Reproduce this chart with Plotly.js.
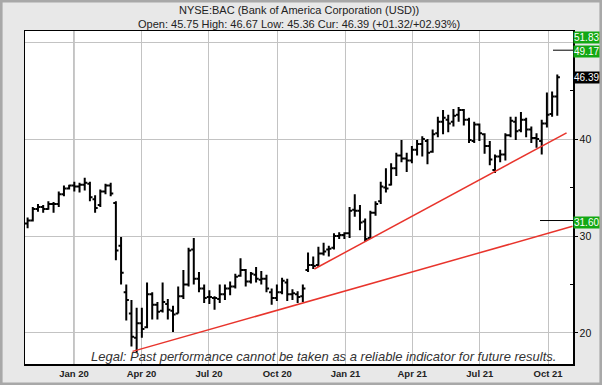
<!DOCTYPE html>
<html><head><meta charset="utf-8">
<script src="https://cdn.plot.ly/plotly-3.0.1.min.js"></script>
<style>html,body{margin:0;padding:0;background:#e8e8e8;}#chart{width:602px;height:385px;}</style>
</head><body><div id="chart"></div>
<script>
// Weekly bars (week starting Monday), BAC
const weekDates = ['2019-10-28','2019-11-04','2019-11-11','2019-11-18','2019-11-25','2019-12-02','2019-12-09','2019-12-16','2019-12-23','2019-12-30',
'2020-01-06','2020-01-13','2020-01-20','2020-01-27','2020-02-03','2020-02-10','2020-02-17','2020-02-24','2020-03-02','2020-03-09',
'2020-03-16','2020-03-23','2020-03-30','2020-04-06','2020-04-13','2020-04-20','2020-04-27','2020-05-04','2020-05-11','2020-05-18',
'2020-05-25','2020-06-01','2020-06-08','2020-06-15','2020-06-22','2020-06-29','2020-07-06','2020-07-13','2020-07-20','2020-07-27',
'2020-08-03','2020-08-10','2020-08-17','2020-08-24','2020-08-31','2020-09-07','2020-09-14','2020-09-21','2020-09-28','2020-10-05',
'2020-10-12','2020-10-19','2020-10-26','2020-11-02','2020-11-09','2020-11-16','2020-11-23','2020-11-30','2020-12-07','2020-12-14',
'2020-12-21','2020-12-28','2021-01-04','2021-01-11','2021-01-18','2021-01-25','2021-02-01','2021-02-08','2021-02-15','2021-02-22',
'2021-03-01','2021-03-08','2021-03-15','2021-03-22','2021-03-29','2021-04-05','2021-04-12','2021-04-19','2021-04-26','2021-05-03',
'2021-05-10','2021-05-17','2021-05-24','2021-05-31','2021-06-07','2021-06-14','2021-06-21','2021-06-28','2021-07-05','2021-07-12',
'2021-07-19','2021-07-26','2021-08-02','2021-08-09','2021-08-16','2021-08-23','2021-08-30','2021-09-06','2021-09-13','2021-09-20',
'2021-09-27','2021-10-04','2021-10-11'];
const opens = [31.3,31.6,32.8,33.0,32.8,33.3,33.3,34.3,34.9,35.2,
35.1,35.3,35.4,33.8,33.2,34.6,35.2,33.4,29.0,24.2,
22.0,19.5,21.0,20.6,24.0,22.9,22.3,23.0,22.3,22.0,
23.8,25.0,28.6,25.6,24.6,23.7,23.6,23.5,24.0,24.6,
24.8,25.9,26.5,25.3,26.0,25.5,25.6,24.2,23.6,24.2,
25.2,24.0,24.0,23.8,26.5,27.0,27.0,28.2,28.6,28.8,
30.0,30.1,30.3,32.7,32.6,31.5,29.8,32.4,33.6,35.0,
35.3,37.0,38.3,38.0,37.8,38.9,39.5,39.8,38.7,40.6,
41.8,42.0,41.8,42.5,43.0,42.0,39.8,41.5,40.5,39.3,
36.8,38.2,38.4,40.4,41.8,40.9,42.0,41.0,40.1,39.8,
41.6,42.6,44.4];
const highs = [31.9,33.0,33.3,33.2,33.6,33.5,34.6,35.2,35.3,35.6,
35.5,36.0,35.6,34.2,34.8,35.4,35.5,33.6,29.9,25.0,
23.4,22.6,22.6,25.2,24.2,23.2,25.2,23.5,22.8,24.8,
26.5,28.8,29.8,26.3,25.0,24.4,23.8,25.0,25.0,25.3,
26.1,27.7,26.6,26.3,26.8,26.4,26.0,24.6,25.0,25.7,
25.6,24.5,24.3,25.0,28.3,27.9,28.9,29.3,29.0,30.3,
30.4,30.4,33.0,34.3,33.2,31.8,32.6,33.6,35.6,37.0,
37.5,38.6,39.9,38.6,39.3,39.9,40.3,40.0,41.0,42.3,
43.0,42.5,43.1,43.3,43.1,42.2,41.8,41.6,40.6,39.8,
38.4,38.9,40.6,42.3,42.3,42.8,42.2,41.3,40.6,42.0,
44.8,44.9,46.67];
const lows = [30.8,31.5,32.5,32.4,32.7,32.4,33.0,34.1,34.8,34.6,
34.5,34.7,33.6,32.4,33.0,34.3,34.1,27.5,25.0,21.3,
18.6,17.95,19.5,20.5,21.4,21.4,22.1,21.4,20.1,22.0,
23.5,24.8,25.0,24.2,23.1,23.0,22.4,23.1,23.4,23.9,
24.6,25.8,24.8,25.1,25.2,25.0,24.2,22.9,23.3,24.0,
23.3,23.4,23.1,23.2,26.3,26.6,26.8,28.0,27.9,28.6,
29.7,29.7,29.8,32.0,30.6,29.4,29.8,32.1,33.3,34.5,
35.2,36.2,37.6,36.6,37.5,38.3,38.2,37.4,38.6,40.2,
40.5,40.7,41.3,41.8,41.4,39.6,39.6,39.8,38.5,37.3,
36.5,37.6,37.8,40.2,39.9,40.7,40.2,39.6,39.1,38.4,
41.2,42.3,42.4];
const closes = [31.6,32.8,33.0,32.8,33.3,33.3,34.3,34.9,35.2,35.1,
35.3,35.5,34.0,32.9,34.6,35.2,34.4,28.5,26.2,23.4,
19.6,21.0,20.4,24.0,22.9,22.2,23.2,22.4,21.9,23.8,
25.0,28.5,25.6,24.6,23.6,23.7,23.6,24.0,24.6,24.8,
25.8,26.5,25.3,26.1,25.6,25.6,24.6,23.6,24.2,25.4,
24.0,24.1,23.7,24.6,27.0,26.9,28.2,28.4,28.7,30.0,
30.1,30.3,32.6,32.6,31.4,29.7,32.4,33.3,35.1,34.9,
37.0,38.3,38.0,37.8,38.9,39.5,40.0,38.6,40.5,41.8,
42.2,41.6,42.4,43.0,42.0,39.9,41.5,40.6,39.3,37.9,
38.2,38.4,40.4,41.9,40.8,42.0,41.0,40.1,40.0,41.6,
42.5,44.4,46.39];

// Trend lines
const trendADates = ['2020-03-20','2021-11-03'];
const trendAValues = [18.1, 31.0];
const trendBDates = ['2020-11-20','2021-10-26'];
const trendBValues = [26.6, 40.65];

// Axis ticks
const quarterTicks = ['2020-01-01','2020-04-01','2020-07-01','2020-10-01','2021-01-01','2021-04-01','2021-07-01','2021-10-01'];
const quarterLabels = ['Jan 20','Apr 20','Jul 20','Oct 20','Jan 21','Apr 21','Jul 21','Oct 21'];
const yearTicks = ['2020-01-01','2021-01-01'];
const priceTicks = [20,30,40,50];
const priceLabels = ['20','30','40',''];   // 50 is hidden behind the target boxes
const priceMinor = [25,35,45];

// Right-side price labels
const targetLevels = [51.83, 49.17, 31.60];
const currentPrice = 46.39;
const titleText = 'NYSE:BAC (Bank of America Corporation (USD))';
const subtitleText = 'Open: 45.75 High: 46.67 Low: 45.36 Cur: 46.39 (+01.32/+02.93%)';
const legalText = 'Legal: Past performance cannot be taken as a reliable indicator for future results.';

const xRange = ['2019-10-27','2021-11-03 16:00'];
const yRange = [16.8, 51.15];

const traces = [
  {type:'ohlc', x:weekDates, open:opens, high:highs, low:lows, close:closes,
   xperiod: 604800000, xperiodalignment:'middle',
   increasing:{line:{color:'#000', width:2}}, decreasing:{line:{color:'#000', width:2}},
   tickwidth:0.5, hoverinfo:'skip', showlegend:false},
  {type:'scatter', mode:'lines', x:trendADates, y:trendAValues, line:{color:'#e8342c', width:1.5}, hoverinfo:'skip', showlegend:false},
  {type:'scatter', mode:'lines', x:trendBDates, y:trendBValues, line:{color:'#e8342c', width:1.5}, hoverinfo:'skip', showlegend:false}
];

const FONT = 'Liberation Sans, Arial, sans-serif';
const annotations = [
  {xref:'paper', yref:'paper', x:0.5, y:1+ (31-10)/333, text:titleText, showarrow:false, xanchor:'center', yanchor:'middle', font:{family:FONT, size:11, color:'#222'}},
  {xref:'paper', yref:'paper', x:0.5, y:1+ (31-24)/333, text:subtitleText, showarrow:false, xanchor:'center', yanchor:'middle', font:{family:FONT, size:11, color:'#222'}},
  {xref:'paper', yref:'paper', x:(558-25)/548, y:(364-356)/333, text:legalText, showarrow:false, xanchor:'right', yanchor:'middle', font:{family:FONT, size:13, color:'#333', style:'italic'}}
];
targetLevels.forEach(v => {
  const clamped = v > yRange[1];
  annotations.push({xref:'paper', yref: clamped ? 'paper' : 'y', x:1, y: clamped ? 1 : v, xanchor:'left', yanchor: clamped ? 'top' : 'middle',
    yshift: clamped ? 0 : -1.5,
    text: v.toFixed(2), showarrow:false, bgcolor:'#13a813', borderpad:0, font:{family:FONT, size:10, color:'#fff'}});
});
annotations.push({xref:'paper', yref:'y', x:1, y:currentPrice, xanchor:'left', yanchor:'middle', text:currentPrice.toFixed(2), showarrow:false, bgcolor:'#000', borderpad:0, font:{family:FONT, size:10, color:'#fff'}});

const shapes = [];
yearTicks.forEach(d => shapes.push({type:'line', xref:'x', yref:'paper', x0:d, x1:d, y0:0, y1:1, line:{color:'#8c8c8c', width:1}, layer:'below'}));
shapes.push({type:'line', xref:'paper', yref:'y', x0:(553-25)/548, x1:1, y0:targetLevels[1], y1:targetLevels[1], line:{color:'#000', width:1}});
shapes.push({type:'line', xref:'paper', yref:'y', x0:(540-25)/548, x1:1, y0:targetLevels[2], y1:targetLevels[2], line:{color:'#000', width:1}});
// outer frame
shapes.push({type:'rect', xref:'paper', yref:'paper', x0:-25/548+0.002, x1:1+29/548-0.002, y0:-21/333+0.003, y1:1+31/333-0.003, line:{color:'#a8a8a8', width:3}, layer:'below'});

const layout = {
  width:602, height:385,
  margin:{l:25, r:29, t:31, b:21, pad:0},
  paper_bgcolor:'#e8e8e8', plot_bgcolor:'#fff',
  showlegend:false,
  xaxis:{type:'date', range:xRange, tickvals:quarterTicks, ticktext:quarterLabels, showgrid:true, gridcolor:'#c3c3c3', gridwidth:1,
    showline:true, mirror:true, linecolor:'#000', linewidth:1.5, ticks:'', zeroline:false,
    rangeslider:{visible:false}, tickfont:{family:FONT, size:9.5, color:'#222', weight:'bold'}, fixedrange:true},
  yaxis:{side:'right', range:yRange, tickvals:priceTicks, ticktext:priceLabels, showgrid:true, gridcolor:'#c3c3c3', gridwidth:1,
    showline:true, mirror:true, linecolor:'#000', linewidth:1.5, ticks:'outside', ticklen:3, tickcolor:'#000', zeroline:false,
    minor:{tickvals:priceMinor, ticks:'inside', ticklen:3, tickcolor:'#000', showgrid:false},
    tickfont:{family:FONT, size:10.5, color:'#111'}, fixedrange:true},
  annotations, shapes
};
Plotly.newPlot('chart', traces, layout, {staticPlot:true});
</script></body></html>
